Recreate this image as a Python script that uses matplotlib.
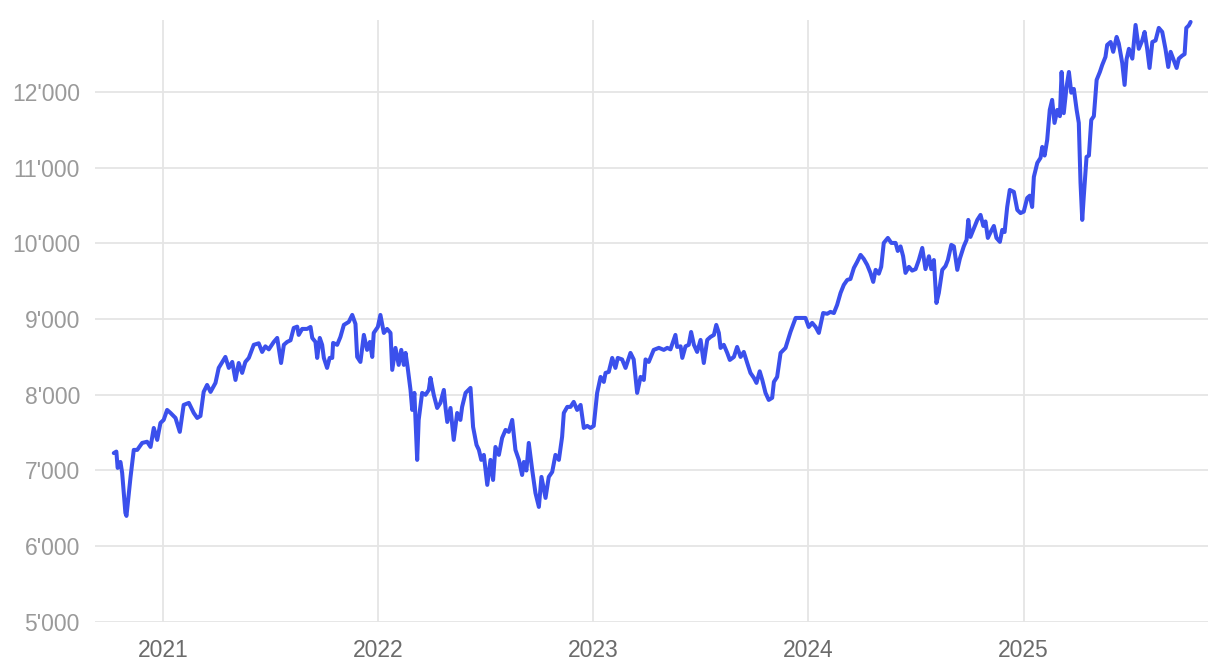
import pandas as pd
import matplotlib
matplotlib.use("Agg")
import matplotlib.pyplot as plt
import matplotlib.dates as mdates
from matplotlib.ticker import FuncFormatter

# time as decimal year, index level
t = [
    2020.769, 2020.781, 2020.787, 2020.800, 2020.808, 2020.823, 2020.828, 2020.839, 2020.847, 2020.862,
    2020.878, 2020.901, 2020.924, 2020.940, 2020.955, 2020.971, 2020.986, 2021.001, 2021.017, 2021.033,
    2021.056, 2021.076, 2021.094, 2021.118, 2021.141, 2021.157, 2021.172, 2021.187, 2021.203, 2021.219,
    2021.242, 2021.257, 2021.288, 2021.304, 2021.320, 2021.335, 2021.350, 2021.366, 2021.381, 2021.397,
    2021.420, 2021.443, 2021.459, 2021.474, 2021.490, 2021.513, 2021.529, 2021.547, 2021.560, 2021.575,
    2021.591, 2021.606, 2021.622, 2021.629, 2021.645, 2021.668, 2021.684, 2021.692, 2021.707, 2021.715,
    2021.727, 2021.738, 2021.746, 2021.761, 2021.773, 2021.785, 2021.789, 2021.808, 2021.823, 2021.839,
    2021.862, 2021.878, 2021.893, 2021.901, 2021.916, 2021.932, 2021.947, 2021.960, 2021.971, 2021.978,
    2021.997, 2022.009, 2022.025, 2022.040, 2022.056, 2022.064, 2022.079, 2022.094, 2022.106, 2022.118,
    2022.126, 2022.136, 2022.149, 2022.157, 2022.167, 2022.180, 2022.187, 2022.203, 2022.219, 2022.234,
    2022.242, 2022.257, 2022.273, 2022.288, 2022.304, 2022.312, 2022.320, 2022.335, 2022.350, 2022.366,
    2022.381, 2022.389, 2022.405, 2022.428, 2022.440, 2022.456, 2022.467, 2022.478, 2022.490, 2022.506,
    2022.521, 2022.533, 2022.544, 2022.560, 2022.575, 2022.591, 2022.606, 2022.622, 2022.637, 2022.653,
    2022.668, 2022.676, 2022.688, 2022.699, 2022.715, 2022.730, 2022.746, 2022.758, 2022.777, 2022.792,
    2022.808, 2022.823, 2022.839, 2022.854, 2022.862, 2022.878, 2022.893, 2022.908, 2022.924, 2022.940,
    2022.955, 2022.971, 2022.986, 2023.001, 2023.017, 2023.033, 2023.048, 2023.056, 2023.071, 2023.087,
    2023.102, 2023.113, 2023.133, 2023.149, 2023.172, 2023.187, 2023.203, 2023.219, 2023.234, 2023.242,
    2023.257, 2023.280, 2023.304, 2023.327, 2023.343, 2023.358, 2023.381, 2023.389, 2023.405, 2023.413,
    2023.428, 2023.443, 2023.454, 2023.467, 2023.482, 2023.498, 2023.513, 2023.529, 2023.544, 2023.560,
    2023.571, 2023.583, 2023.591, 2023.606, 2023.622, 2023.634, 2023.653, 2023.668, 2023.684, 2023.699,
    2023.715, 2023.730, 2023.746, 2023.758, 2023.773, 2023.785, 2023.800, 2023.815, 2023.831, 2023.839,
    2023.854, 2023.870, 2023.893, 2023.916, 2023.940, 2023.963, 2023.986, 2024.001, 2024.017, 2024.033,
    2024.048, 2024.068, 2024.087, 2024.102, 2024.118, 2024.133, 2024.149, 2024.164, 2024.180, 2024.195,
    2024.211, 2024.226, 2024.242, 2024.257, 2024.273, 2024.288, 2024.301, 2024.312, 2024.327, 2024.338,
    2024.350, 2024.369, 2024.385, 2024.405, 2024.415, 2024.428, 2024.440, 2024.451, 2024.467, 2024.482,
    2024.498, 2024.513, 2024.529, 2024.544, 2024.560, 2024.571, 2024.583, 2024.595, 2024.606, 2024.622,
    2024.637, 2024.648, 2024.664, 2024.676, 2024.692, 2024.704, 2024.722, 2024.735, 2024.743, 2024.753,
    2024.772, 2024.785, 2024.800, 2024.813, 2024.823, 2024.834, 2024.847, 2024.862, 2024.874, 2024.890,
    2024.901, 2024.912, 2024.924, 2024.936, 2024.955, 2024.971, 2024.986, 2025.001, 2025.017, 2025.029,
    2025.040, 2025.048, 2025.064, 2025.079, 2025.087, 2025.098, 2025.110, 2025.122, 2025.133, 2025.144,
    2025.157, 2025.169, 2025.177, 2025.187, 2025.200, 2025.211, 2025.222, 2025.234, 2025.247, 2025.257,
    2025.265, 2025.273, 2025.280, 2025.293, 2025.304, 2025.315, 2025.327, 2025.340, 2025.355, 2025.366,
    2025.381, 2025.389, 2025.405, 2025.417, 2025.433, 2025.443, 2025.459, 2025.470, 2025.479, 2025.490,
    2025.506, 2025.521, 2025.536, 2025.552, 2025.563, 2025.575, 2025.586, 2025.599, 2025.614, 2025.629,
    2025.645, 2025.660, 2025.673, 2025.684, 2025.696, 2025.712, 2025.722, 2025.738, 2025.749, 2025.757,
    2025.769, 2025.777,
]

level = [
    7230, 7250, 7034, 7113, 6968, 6440, 6400, 6704, 6915, 7272,
    7272, 7364, 7380, 7311, 7562, 7404, 7628, 7668, 7800, 7760,
    7694, 7510, 7866, 7893, 7760, 7694, 7720, 8038, 8130, 8038,
    8157, 8355, 8500, 8355, 8434, 8196, 8420, 8289, 8434, 8487,
    8660, 8680, 8566, 8640, 8600, 8698, 8751, 8420, 8660, 8698,
    8720, 8883, 8900, 8791, 8870, 8870, 8896, 8751, 8698, 8487,
    8751, 8660, 8487, 8355, 8487, 8487, 8685, 8660, 8764, 8923,
    8963, 9055, 8936, 8500, 8434, 8791, 8593, 8698, 8500, 8817,
    8896, 9055, 8817, 8870, 8817, 8329, 8619, 8395, 8593, 8395,
    8553, 8355, 8064, 7800, 8025, 7140, 7668, 8025, 8000, 8064,
    8223, 8000, 7826, 7893, 8064, 7826, 7641, 7826, 7404, 7760,
    7668, 7840, 8025, 8091, 7576, 7338, 7272, 7140, 7206, 6810,
    7140, 6875, 7311, 7206, 7430, 7536, 7510, 7668, 7272, 7140,
    6941, 7113, 7000, 7364, 7006, 6704, 6519, 6915, 6638, 6915,
    6981, 7206, 7140, 7444, 7760, 7840, 7840, 7906, 7800, 7866,
    7562, 7589, 7562, 7589, 8025, 8236, 8170, 8289, 8302, 8487,
    8355, 8487, 8467, 8355, 8553, 8467, 8025, 8236, 8196, 8467,
    8434, 8593, 8620, 8593, 8620, 8600, 8791, 8632, 8640, 8487,
    8640, 8660, 8830, 8660, 8566, 8725, 8420, 8725, 8764, 8791,
    8923, 8817, 8619, 8660, 8553, 8460, 8500, 8632, 8500, 8566,
    8420, 8289, 8223, 8157, 8310, 8196, 8025, 7932, 7960, 8170,
    8236, 8553, 8619, 8830, 9015, 9015, 9015, 8896, 8950, 8896,
    8817, 9080, 9070, 9095, 9080, 9187, 9345, 9451, 9517, 9530,
    9676, 9755, 9848, 9795, 9715, 9610, 9491, 9650, 9600, 9690,
    10006, 10072, 10006, 10006, 9900, 9960, 9830, 9610, 9690, 9640,
    9660, 9780, 9940, 9660, 9830, 9660, 9780, 9213, 9345, 9650,
    9700, 9780, 9980, 9960, 9650, 9800, 9960, 10045, 10310, 10085,
    10217, 10310, 10376, 10230, 10290, 10072, 10150, 10230, 10072, 10020,
    10178, 10150, 10481, 10706, 10680, 10442, 10400, 10420, 10600, 10630,
    10481, 10878, 11063, 11130, 11274, 11160, 11367, 11763, 11895, 11591,
    11763, 11680, 12264, 11720, 12066, 12264, 11990, 12040, 11763, 11591,
    10800, 10310, 10614, 11142, 11160, 11630, 11680, 12159, 12264, 12357,
    12463, 12621, 12660, 12530, 12727, 12640, 12383, 12093, 12430, 12570,
    12440, 12885, 12570, 12680, 12793, 12570, 12317, 12660, 12680, 12846,
    12793, 12570, 12330, 12530, 12440, 12317, 12440, 12480, 12500, 12846,
    12880, 12925,
]

year_ticks = [2021, 2022, 2023, 2024, 2025]
y_ticks = [5000, 6000, 7000, 8000, 9000, 10000, 11000, 12000]

df = pd.DataFrame({"t": t, "level": level})
df["date"] = pd.Timestamp("2021-01-01") + pd.to_timedelta((df["t"] - 2021) * 365.25, unit="D")

plt.rcParams["font.family"] = ["Liberation Sans", "DejaVu Sans"]

fig = plt.figure(figsize=(12.2, 6.68), dpi=100)
ax = fig.add_axes([0.078, 0.069, 0.912, 0.901])

ax.plot(df["date"], df["level"], color="#3b50ec", linewidth=2.9,
        solid_joinstyle="round", solid_capstyle="round")

ax.set_ylim(5000, 12950)
ax.set_xlim(pd.Timestamp("2020-09-07"), pd.Timestamp("2025-11-10"))
ax.set_yticks(y_ticks)
ax.yaxis.set_major_formatter(FuncFormatter(lambda v, p: "{:,.0f}".format(v).replace(",", "'")))
ax.set_xticks([pd.Timestamp(f"{y}-01-01") for y in year_ticks])
ax.xaxis.set_major_formatter(mdates.DateFormatter("%Y"))

ax.grid(True, color="#e5e5e5", linewidth=1.3)
ax.set_axisbelow(True)
for s in ax.spines.values():
    s.set_visible(False)
ax.tick_params(axis="both", length=0)
ax.tick_params(axis="y", labelsize=16.5, labelcolor="#9a9a9a", pad=11)
ax.tick_params(axis="x", labelsize=16.5, labelcolor="#6b6b6b", pad=12)

fig.savefig("out.png", dpi=100)
